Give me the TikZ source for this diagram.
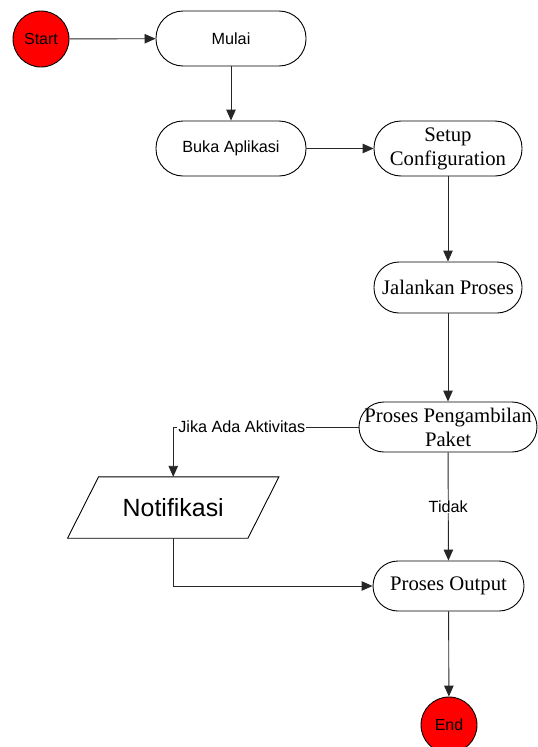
\documentclass[tikz,border=0pt]{standalone}
\usepackage{fontspec}
\setmainfont{Liberation Serif}
\setsansfont{Liberation Sans}
\usetikzlibrary{arrows.meta}
\definecolor{termred}{RGB}{255,0,0}
\tikzset{
  term/.style={circle, draw=black, line width=0.9pt, fill=termred, minimum size=56pt, inner sep=0pt, font=\sffamily\fontsize{16}{18}\selectfont},
  sproc/.style={rectangle, draw=black, line width=0.9pt, rounded corners=27pt, minimum width=150pt, minimum height=55pt, inner sep=0pt, font=\sffamily\fontsize{16.2}{18}\selectfont},
  rproc/.style={rectangle, draw=black, line width=0.9pt, rounded corners=25pt, minimum width=148pt, minimum height=51pt, inner sep=0pt, align=center, font=\fontsize{20.7}{24}\selectfont},
  conn/.style={draw=black!85, line width=0.9pt, -{Triangle[length=11pt,width=9.5pt]}},
  lbl/.style={fill=white, inner sep=1pt, font=\sffamily\fontsize{16.2}{18}\selectfont}
}
\begin{document}
\begin{tikzpicture}[x=1pt,y=-1pt]
\useasboundingbox (0,0) rectangle (538,747);
\node[term] (start) at (41,39) {Start};
\node[sproc] (mulai) at (231,38.5) {Mulai};
\node[sproc] (buka) at (231,148.5) {Buka Aplikasi};
\node[rproc, minimum height=55pt, rounded corners=27pt] (setup) at (448,148.5) {Setup\\Configuration};
\node[rproc] (jalan) at (448,287.5) {Jalankan Proses};
\node[rproc, minimum width=178pt, minimum height=50pt] (ambil) at (448,427) {Proses Pengambilan\\Paket};
\node[rectangle, minimum width=180pt, minimum height=61pt, inner sep=0pt, font=\sffamily\fontsize{24.9}{28}\selectfont] (notif) at (173.25,507.5) {Notifikasi};
\draw[line width=0.9pt] ([xshift=15.5pt]notif.north west) -- ([xshift=15.5pt]notif.north east) -- ([xshift=-15.5pt]notif.south east) -- ([xshift=-15.5pt]notif.south west) -- cycle;
\node[rproc, minimum width=151pt, minimum height=50pt] (output) at (448.5,586) {Proses Output};
\node[term] (end) at (449,725) {End};

\draw[conn] (start) -- (mulai);
\draw[conn] (mulai) -- (buka);
\draw[conn] (buka) -- (setup);
\draw[conn] (setup) -- (jalan);
\draw[conn] (jalan) -- (ambil);
\draw[conn] (ambil.west) -| (notif.north) node[lbl, pos=0.315] {Jika Ada Aktivitas};
\draw[conn] (ambil) -- node[lbl] {Tidak} (output);
\draw[conn] (notif.south) |- (output.west);
\draw[conn] (output) -- (end);
\end{tikzpicture}
\end{document}
